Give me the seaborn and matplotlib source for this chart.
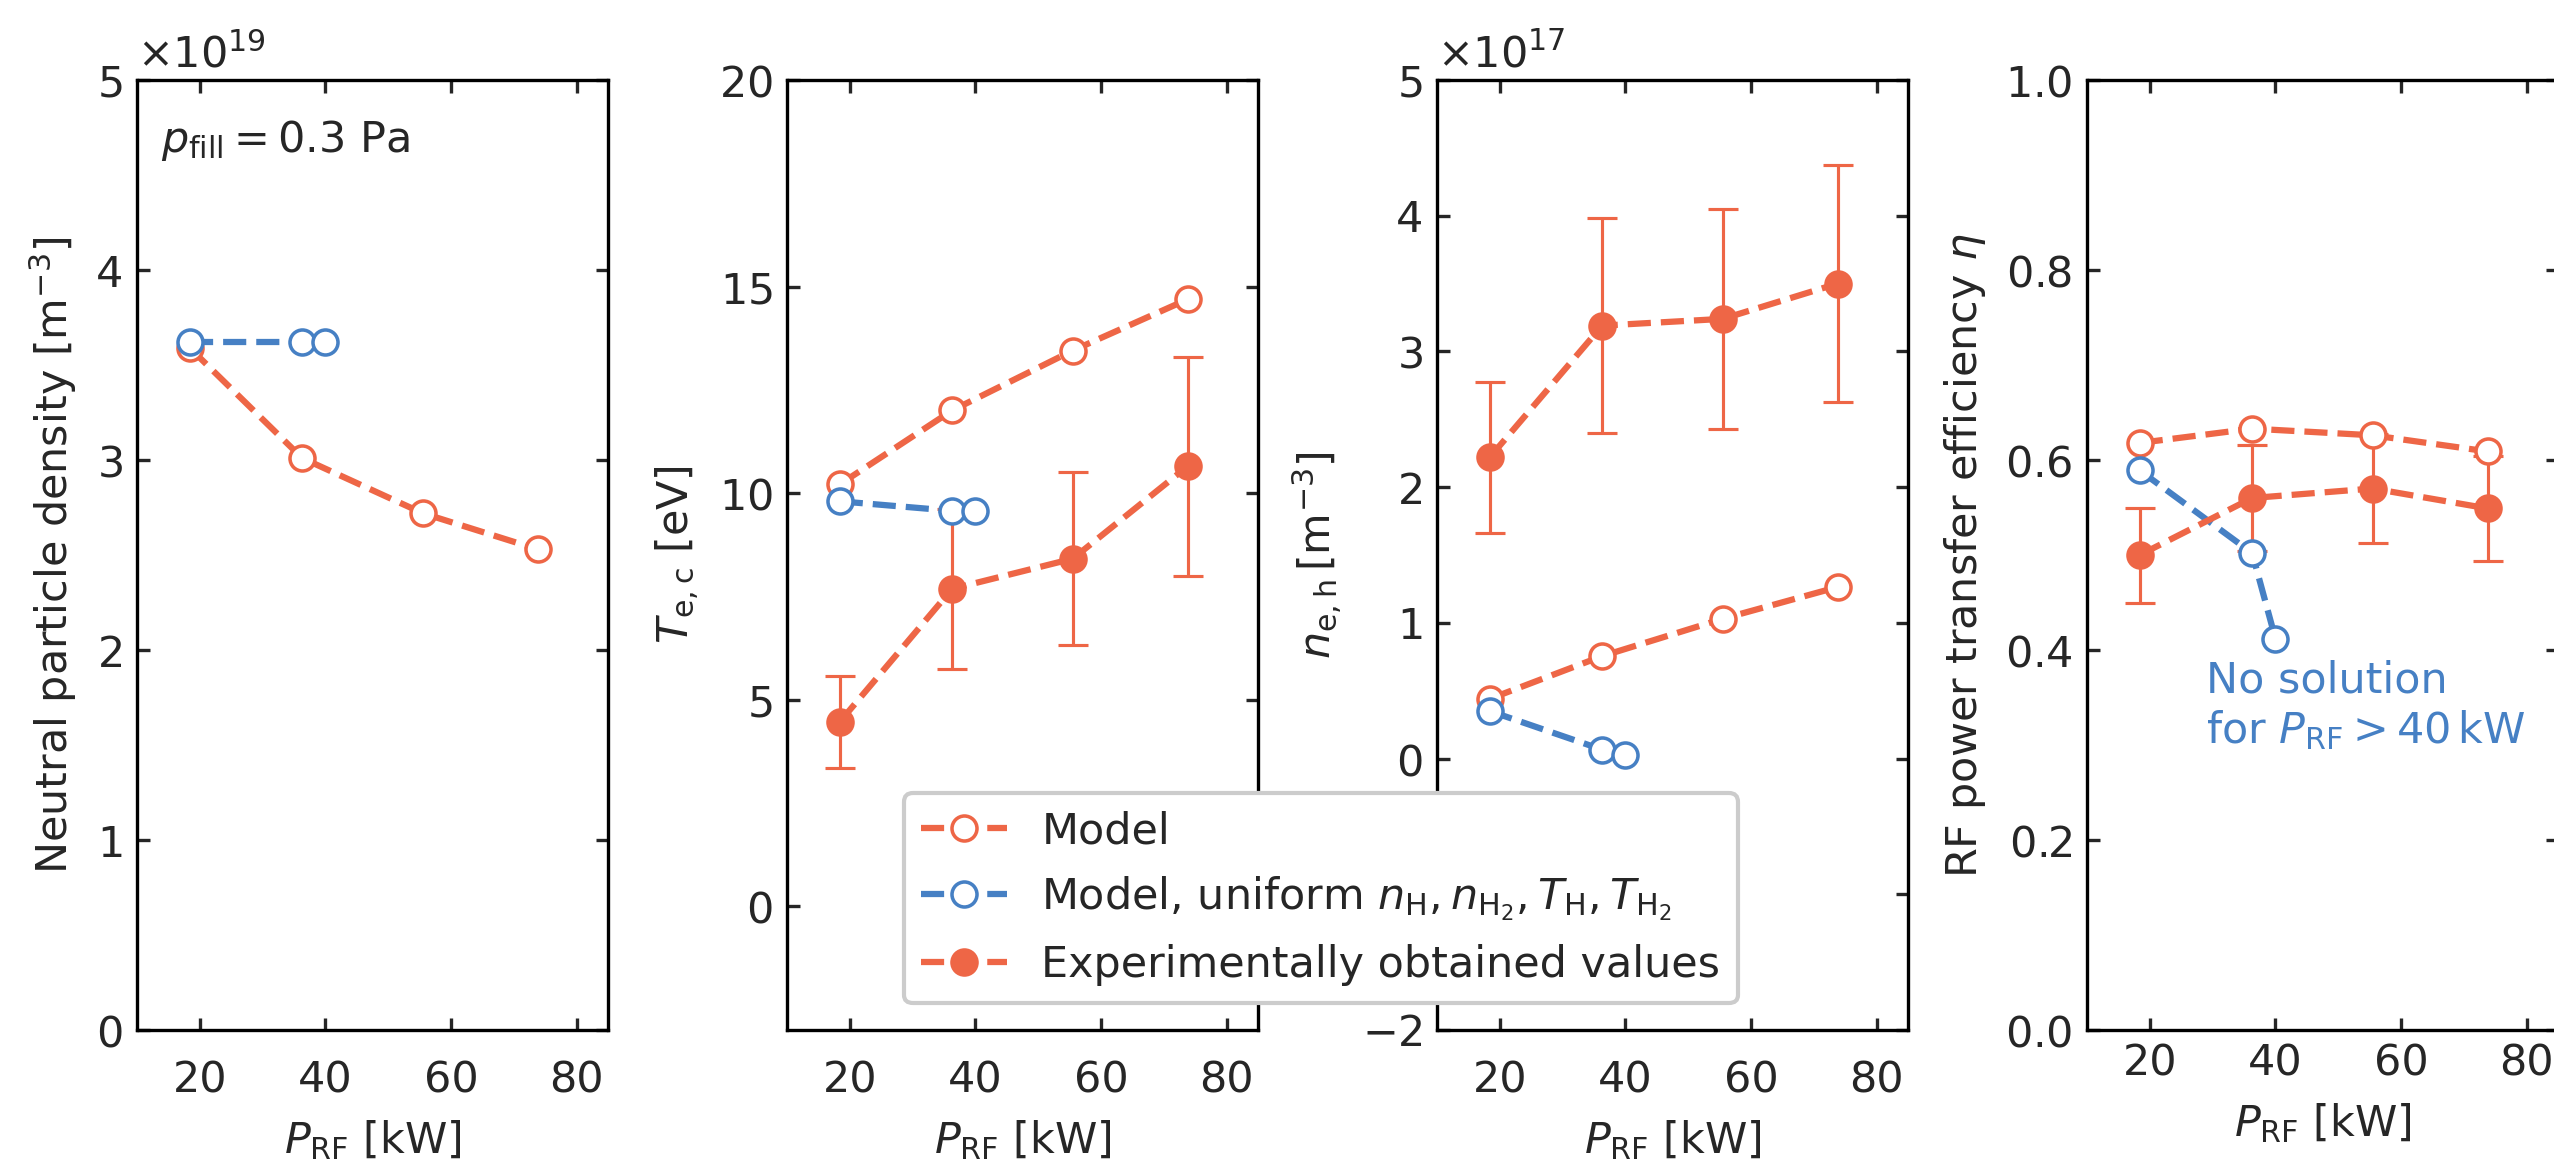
import numpy as np
import matplotlib
matplotlib.use("Agg")
import matplotlib.pyplot as plt
import seaborn as sns
from matplotlib.ticker import MultipleLocator, ScalarFormatter

# --- data ------------------------------------------------------------------
p_rf = [18.4, 36.3, 55.5, 73.8]          # kW, model / experiment points
p_rf_uni = [18.4, 36.3, 40.0]            # kW, uniform-neutral model (no solution above 40 kW)

n0_model = [3.59e19, 3.01e19, 2.72e19, 2.53e19]
n0_uni = [3.62e19, 3.62e19, 3.62e19]

te_model = [10.21, 12.0, 13.45, 14.69]
te_uni = [9.80, 9.57, 9.57]
te_exp = [4.46, 7.68, 8.41, 10.65]
te_err = [1.12, 1.93, 2.10, 2.65]

ne_model = [0.44e17, 0.755e17, 1.03e17, 1.264e17]
ne_uni = [0.35e17, 0.066e17, 0.027e17]
ne_exp = [2.22e17, 3.19e17, 3.24e17, 3.50e17]
ne_err = [0.555e17, 0.79e17, 0.81e17, 0.875e17]

eta_model = [0.618, 0.633, 0.626, 0.609]
eta_uni = [0.589, 0.502, 0.412]
eta_exp = [0.500, 0.560, 0.570, 0.549]
eta_err = [0.050, 0.056, 0.057, 0.055]

labels = ["Model",
          r"Model, uniform $n_\mathrm{H}, n_\mathrm{H_2}, T_\mathrm{H}, T_\mathrm{H_2}$",
          "Experimentally obtained values"]

ORANGE = "#EE6646"
BLUE = "#4680C4"

sns.set_style("ticks")
plt.rcParams["font.family"] = ["DejaVu Sans"]
plt.rcParams["font.size"] = 10.3
plt.rcParams["mathtext.fontset"] = "dejavusans"

fig = plt.figure(figsize=(2554 / 300, 1163 / 300), dpi=300)

lefts = [0.05364, 0.30814, 0.56265, 0.81715]
bottom, width, height = 0.11436, 0.18442, 0.81685
axes = [fig.add_axes([l, bottom, width, height]) for l in lefts]


def curve(ax, x, y, color, filled, label):
    sns.lineplot(x=x, y=y, ax=ax, color=color, ls="--", lw=1.5, marker="o",
                 ms=6, mfc=color if filled else "white", mec=color, mew=0.85,
                 label=label, legend=False, sort=False, errorbar=None)


def errs(ax, x, y, e):
    ax.errorbar(x, y, yerr=e, fmt="none", ecolor=ORANGE, elinewidth=0.75,
                capsize=3.5, capthick=0.75, zorder=1.5)


# panel 1: neutral density
ax = axes[0]
curve(ax, p_rf, n0_model, ORANGE, False, labels[0])
curve(ax, p_rf_uni, n0_uni, BLUE, False, labels[1])
ax.set_ylim(0, 5e19)
ax.yaxis.set_major_locator(MultipleLocator(1e19))
ax.set_ylabel(r"Neutral particle density [m$^{-3}$]")
ax.text(0.05, 0.96, r"$p_\mathrm{fill} = 0.3$ Pa", transform=ax.transAxes,
        ha="left", va="top")

# panel 2: electron temperature
ax = axes[1]
errs(ax, p_rf, te_exp, te_err)
curve(ax, p_rf, te_model, ORANGE, False, labels[0])
curve(ax, p_rf_uni, te_uni, BLUE, False, labels[1])
curve(ax, p_rf, te_exp, ORANGE, True, labels[2])
ax.set_ylim(-3, 20)
ax.yaxis.set_major_locator(MultipleLocator(5))
ax.set_ylabel(r"$T_\mathrm{e,c}$ [eV]")

# panel 3: electron density
ax = axes[2]
errs(ax, p_rf, ne_exp, ne_err)
curve(ax, p_rf, ne_model, ORANGE, False, labels[0])
curve(ax, p_rf_uni, ne_uni, BLUE, False, labels[1])
curve(ax, p_rf, ne_exp, ORANGE, True, labels[2])
ax.set_ylim(-2e17, 5e17)
ax.yaxis.set_major_locator(MultipleLocator(1e17))
ax.set_ylabel(r"$n_\mathrm{e,h}\,[\mathrm{m}^{-3}]$")

# panel 4: power transfer efficiency
ax = axes[3]
errs(ax, p_rf, eta_exp, eta_err)
curve(ax, p_rf, eta_model, ORANGE, False, labels[0])
curve(ax, p_rf_uni, eta_uni, BLUE, False, labels[1])
curve(ax, p_rf, eta_exp, ORANGE, True, labels[2])
ax.set_ylim(0, 1)
ax.yaxis.set_major_locator(MultipleLocator(0.2))
ax.set_ylabel(r"RF power transfer efficiency $\eta$")
ax.text(29.0, 0.39, "No solution\n" + r"for $P_\mathrm{RF} > 40\,$kW",
        color=BLUE, ha="left", va="top")

for i, ax in enumerate(axes):
    ax.set_xlim(10, 85)
    ax.xaxis.set_major_locator(MultipleLocator(20))
    ax.set_xlabel(r"$P_\mathrm{RF}$ [kW]")
    fmt = ScalarFormatter(useMathText=True)
    ax.yaxis.set_major_formatter(fmt)
    ax.tick_params(direction="in", top=True, right=True, length=3, width=0.8)
    ax.tick_params(axis="x", pad=7 if i < 3 else 3)
    for s in ax.spines.values():
        s.set_linewidth(0.8)
        s.set_color("black")

handles, labs = axes[1].get_legend_handles_labels()
fig.legend(handles, labs, loc="upper left", bbox_to_anchor=(0.354, 0.318),
           borderaxespad=0, framealpha=1.0)

fig.savefig("out.png", dpi=300)
